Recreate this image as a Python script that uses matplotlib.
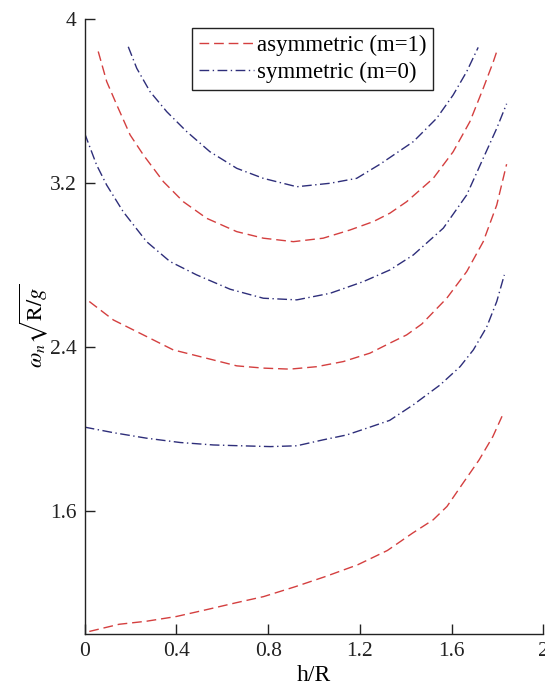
import matplotlib
matplotlib.use("Agg")
import matplotlib.pyplot as plt

plt.rcParams['font.family'] = ['Liberation Serif', 'DejaVu Serif']
plt.rcParams['mathtext.fontset'] = 'stix'

# asymmetric (m=1) curves
r1_x = [0.02, 0.15, 0.27, 0.40, 0.53, 0.66, 0.78, 0.92, 1.05, 1.19, 1.32, 1.43, 1.52, 1.58, 1.65, 1.72, 1.78, 1.82]
r1_y = [1.01, 1.045, 1.06, 1.083, 1.116, 1.15, 1.18, 1.229, 1.278, 1.335, 1.405, 1.49, 1.555, 1.62, 1.734, 1.847, 1.961, 2.06]

r2_x = [0.02, 0.125, 0.27, 0.386, 0.532, 0.663, 0.779, 0.895, 1.012, 1.128, 1.244, 1.331, 1.404, 1.47, 1.579, 1.666, 1.738, 1.797, 1.84]
r2_y = [2.62, 2.53, 2.449, 2.384, 2.343, 2.306, 2.295, 2.29, 2.302, 2.327, 2.368, 2.417, 2.457, 2.51, 2.636, 2.766, 2.912, 3.091, 3.29]

r3_x = [0.059, 0.096, 0.14, 0.198, 0.256, 0.343, 0.43, 0.532, 0.663, 0.779, 0.91, 1.04, 1.157, 1.259, 1.331, 1.404, 1.52, 1.607, 1.68, 1.738, 1.782, 1.80]
r3_y = [3.84, 3.693, 3.579, 3.433, 3.335, 3.205, 3.107, 3.026, 2.961, 2.929, 2.912, 2.929, 2.969, 3.01, 3.051, 3.107, 3.221, 3.351, 3.498, 3.66, 3.79, 3.85]

# symmetric (m=0) curves
s1_x = [0.0, 0.125, 0.27, 0.416, 0.561, 0.68, 0.81, 0.925, 1.04, 1.143, 1.244, 1.33, 1.433, 1.55, 1.637, 1.695, 1.753, 1.797, 1.83]
s1_y = [2.007, 1.98, 1.953, 1.932, 1.92, 1.916, 1.912, 1.916, 1.945, 1.969, 2.007, 2.04, 2.116, 2.213, 2.302, 2.384, 2.495, 2.62, 2.75]

s2_x = [0.0, 0.052, 0.096, 0.168, 0.27, 0.372, 0.488, 0.634, 0.779, 0.925, 1.07, 1.215, 1.331, 1.433, 1.564, 1.666, 1.738, 1.797, 1.84]
s2_y = [3.44, 3.286, 3.188, 3.058, 2.912, 2.815, 2.75, 2.68, 2.636, 2.628, 2.66, 2.717, 2.774, 2.847, 2.978, 3.14, 3.319, 3.465, 3.585]

s3_x = [0.19, 0.227, 0.285, 0.358, 0.445, 0.546, 0.663, 0.779, 0.925, 1.07, 1.186, 1.288, 1.433, 1.535, 1.607, 1.666, 1.716]
s3_y = [3.863, 3.758, 3.644, 3.546, 3.449, 3.351, 3.27, 3.221, 3.18, 3.197, 3.221, 3.29, 3.4, 3.514, 3.628, 3.742, 3.86]

x_ticks = [0, 0.4, 0.8, 1.2, 1.6, 2]
x_ticklabels = ['0', '0.4', '0.8', '1.2', '1.6', '2']
y_ticks = [1.6, 2.4, 3.2, 4]
y_ticklabels = ['1.6', '2.4', '3.2', '4']

red = '#d43f3f'
blue = '#2e2e7a'

fig = plt.figure(figsize=(5.45, 6.9), dpi=100)
ax = fig.add_axes([84.7 / 545, 1 - 633.5 / 690, 458.6 / 545, 614.8 / 690])

dash = (0, (7, 3.5))
dashdot = (0, (7, 2.5, 1, 2.5))
ax.plot(r1_x, r1_y, color=red, lw=1.0, linestyle=dash, label='asymmetric (m=1)')
ax.plot(s1_x, s1_y, color=blue, lw=1.0, linestyle=dashdot, label='symmetric (m=0)')
ax.plot(r2_x, r2_y, color=red, lw=1.0, linestyle=dash)
ax.plot(s2_x, s2_y, color=blue, lw=1.0, linestyle=dashdot)
ax.plot(r3_x, r3_y, color=red, lw=1.0, linestyle=dash)
ax.plot(s3_x, s3_y, color=blue, lw=1.0, linestyle=dashdot)

ax.set_xlim(0, 2)
ax.set_ylim(1.0, 4.0)
ax.set_xticks(x_ticks)
ax.set_xticklabels(x_ticklabels)
ax.set_yticks(y_ticks)
ax.set_yticklabels(y_ticklabels)
ax.tick_params(direction='in', length=7, width=1, labelsize=15.5, pad=6, colors='#222222')
ax.spines['top'].set_visible(False)
ax.spines['right'].set_visible(False)
for s in ('left', 'bottom'):
    ax.spines[s].set_linewidth(1.0)
    ax.spines[s].set_color('#222222')

ax.set_xlabel('h/R', fontsize=17, labelpad=3)
ax.set_ylabel(r'$\omega_n\sqrt{\mathrm{R}/g}$', fontsize=16, labelpad=0)

leg = ax.legend(loc='upper left', bbox_to_anchor=(191.7 / 545, 1 - 28.3 / 690),
                bbox_transform=fig.transFigure, borderaxespad=0, fontsize=16.5,
                handlelength=2.4, handletextpad=0.15, labelspacing=0.25,
                borderpad=0.3, fancybox=False, framealpha=1, edgecolor='#222222')
leg.get_frame().set_linewidth(1.0)

fig.savefig('out.png', dpi=100)
